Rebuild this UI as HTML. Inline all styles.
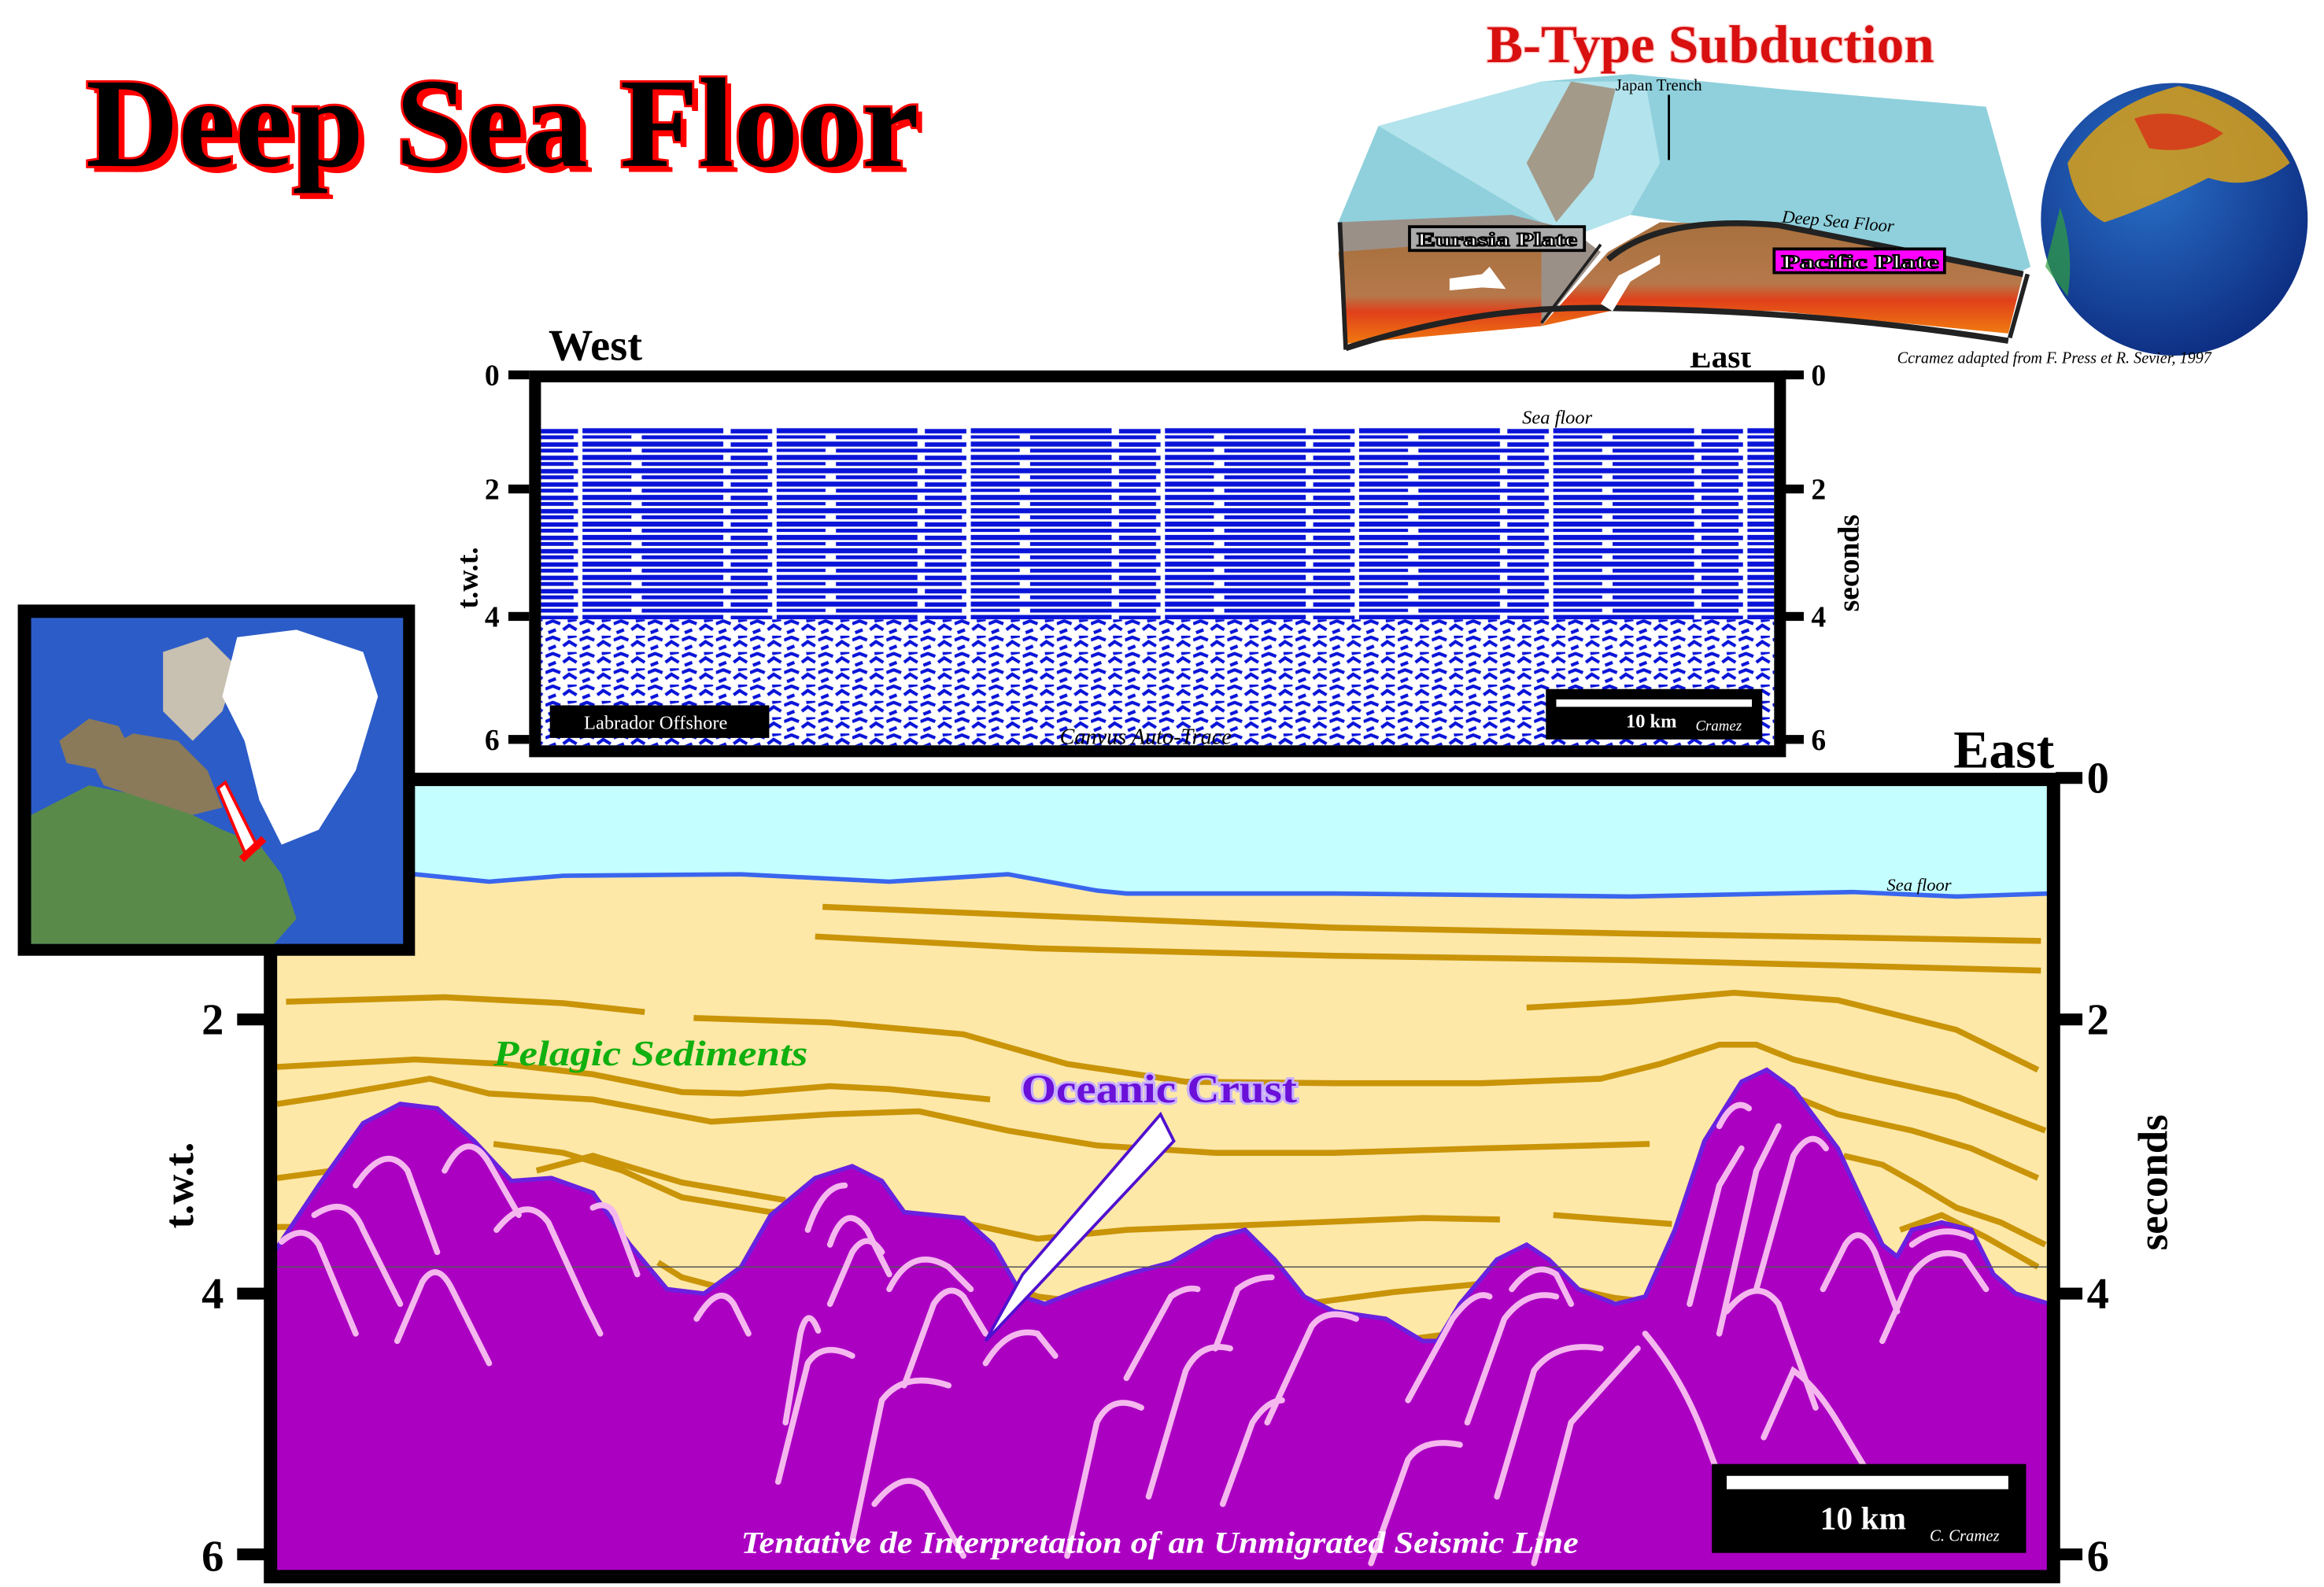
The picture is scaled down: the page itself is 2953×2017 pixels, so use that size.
<!DOCTYPE html>
<html><head><meta charset="utf-8"><style>
html,body{margin:0;padding:0;background:#fff;}
svg{display:block;}
text{font-family:"Liberation Serif",serif;}
</style></head><body>
<svg width="2953" height="2017" viewBox="0 0 1568 1071" preserveAspectRatio="none" xmlns="http://www.w3.org/2000/svg">
<defs>
<pattern id="hz" width="131" height="9" patternUnits="userSpaceOnUse">
<rect width="131" height="9" fill="#fff"/>
<rect x="0" y="1" width="95" height="3.4" fill="#0a14d8"/>
<rect x="100" y="1.5" width="28" height="3" fill="#0a14d8"/>
<rect x="40" y="5.8" width="85" height="2.6" fill="#0a14d8"/>
<rect x="0" y="5.8" width="33" height="2.2" fill="#0a14d8"/>
</pattern>
<pattern id="ns" width="23" height="11" patternUnits="userSpaceOnUse">
<rect width="23" height="11" fill="#fff"/>
<path d="M0 3 L5 1 L10 3 M12 7 L16 4 L21 7 M2 9 L7 7 M15 1 L21 0" stroke="#0a14d8" stroke-width="2.2" fill="none"/>
</pattern>
<linearGradient id="mantle" x1="0" y1="0" x2="0" y2="1">
<stop offset="0" stop-color="#a7703e"/><stop offset="0.55" stop-color="#b6784a"/><stop offset="0.7" stop-color="#e0401a"/><stop offset="1" stop-color="#f07a10"/>
</linearGradient>
<radialGradient id="globe" cx="0.4" cy="0.35" r="0.7">
<stop offset="0" stop-color="#2a70c8"/><stop offset="1" stop-color="#0c2c80"/>
</radialGradient>
</defs>

<text x="62" y="116" font-size="86" font-weight="bold" textLength="562" lengthAdjust="spacingAndGlyphs" fill="#f00">Deep Sea Floor</text>
<text x="58" y="112" font-size="86" font-weight="bold" textLength="562" lengthAdjust="spacingAndGlyphs" fill="#000" stroke="#f00" stroke-width="3" paint-order="stroke">Deep Sea Floor</text>

<text x="1003" y="42" font-size="36" font-weight="bold" textLength="302" lengthAdjust="spacingAndGlyphs" fill="#d81010" stroke="#ffd0d0" stroke-width="1.5" paint-order="stroke">B-Type Subduction</text>

<text x="1140" y="248" font-size="22" font-weight="bold" fill="#000">East</text>
<rect x="900" y="50" width="470" height="188" fill="#fff"/>
<polygon points="903,150 930,85 1040,55 1100,50 1200,60 1340,72 1370,180 1360,185 1100,145 1060,160" fill="#8fd0dc"/>
<polygon points="930,85 1040,55 1110,55 1120,110 1100,145 1060,160 1040,150" fill="#b3e3ec"/>
<polygon points="1030,110 1060,55 1090,60 1075,120 1050,150" fill="#a39a8a"/>
<polygon points="903,150 1020,145 1060,155 1080,170 1040,220 910,200" fill="#9b9088"/>
<polygon points="903,170 1040,160 1040,220 908,232" fill="url(#mantle)"/>
<polygon points="1040,220 1085,170 1120,150 1200,152 1365,185 1355,225 1200,210 1095,208" fill="url(#mantle)"/>
<path d="M1085,175 Q1120,145 1200,152 L1365,185" stroke="#222" stroke-width="4" fill="none"/>
<path d="M1040,218 L1080,165" stroke="#222" stroke-width="2" fill="none"/>
<path d="M908,235 Q1000,205 1090,208 Q1230,210 1355,230" stroke="#222" stroke-width="4" fill="none"/>
<path d="M904,150 L908,236 M1368,185 L1356,228" stroke="#222" stroke-width="3"/>
<line x1="1126" y1="64" x2="1126" y2="108" stroke="#000" stroke-width="1.5"/>
<text x="1090" y="61" font-size="11" fill="#000">Japan Trench</text>
<text x="1202" y="150" font-size="12" font-style="italic" fill="#000" transform="rotate(5 1202 150)">Deep Sea Floor</text>
<rect x="951" y="153" width="118" height="16" fill="#aaa" stroke="#000" stroke-width="2"/>
<text x="956" y="166" font-size="13" font-weight="bold" fill="#fff" stroke="#000" stroke-width="1" textLength="108" lengthAdjust="spacingAndGlyphs">Eurasia Plate</text>
<rect x="1197" y="168" width="115" height="16" fill="#f0f" stroke="#000" stroke-width="2"/>
<text x="1202" y="181" font-size="13" font-weight="bold" fill="#fff" stroke="#000" stroke-width="1" textLength="106" lengthAdjust="spacingAndGlyphs">Pacific Plate</text>
<path d="M978,188 L1000,185 L1005,180 L1016,195 L1000,194 L978,196 Z" fill="#fff"/>
<path d="M1120,178 L1100,190 L1088,210 L1080,205 L1092,186 L1120,172 Z" fill="#fff"/>
<ellipse cx="1467" cy="148" rx="90" ry="92" fill="url(#globe)"/>
<path d="M1395,110 Q1420,70 1470,58 Q1520,70 1545,110 Q1520,130 1490,120 Q1450,140 1420,150 Q1400,140 1395,110Z" fill="#d9a018" opacity="0.85"/>
<path d="M1440,80 Q1470,70 1500,90 Q1480,105 1450,100Z" fill="#d83018" opacity="0.8"/>
<path d="M1390,140 Q1400,170 1395,200 L1380,180 Z" fill="#30a040" opacity="0.7"/>
<text x="1280" y="245" font-size="11" font-style="italic" fill="#000" textLength="212" lengthAdjust="spacingAndGlyphs">Ccramez adapted from F. Press et R. Sevier, 1997</text>

<rect x="365" y="258" width="832" height="245" fill="#fff"/>
<rect x="365" y="288" width="832" height="130" fill="url(#hz)"/>
<rect x="365" y="418" width="832" height="85" fill="url(#ns)"/>
<rect x="361" y="254" width="840" height="253" fill="none" stroke="#000" stroke-width="8"/>
<text x="370" y="243" font-size="30" font-weight="bold" fill="#000">West</text>
<text x="1027" y="286" font-size="13" font-style="italic" fill="#000">Sea floor</text>
<g fill="#000">
<rect x="343" y="250" width="14" height="6"/><rect x="343" y="327" width="14" height="6"/><rect x="343" y="413" width="14" height="6"/><rect x="343" y="496" width="14" height="6"/>
<rect x="1203" y="250" width="14" height="6"/><rect x="1203" y="327" width="14" height="6"/><rect x="1203" y="413" width="14" height="6"/><rect x="1203" y="496" width="14" height="6"/>
</g>
<g font-size="20" font-weight="bold" fill="#000">
<text x="327" y="260">0</text><text x="327" y="337">2</text><text x="327" y="423">4</text><text x="327" y="506">6</text>
<text x="1222" y="260">0</text><text x="1222" y="337">2</text><text x="1222" y="423">4</text><text x="1222" y="506">6</text>
</g>
<text transform="translate(322 390) rotate(-90)" font-size="20" font-weight="bold" text-anchor="middle" fill="#000">t.w.t.</text>
<text transform="translate(1254 380) rotate(-90)" font-size="20" font-weight="bold" text-anchor="middle" fill="#000">seconds</text>
<rect x="371" y="476" width="148" height="22" fill="#000"/>
<text x="394" y="492" font-size="13" fill="#fff">Labrador Offshore</text>
<rect x="1043" y="465" width="146" height="34" fill="#000"/>
<rect x="1050" y="472" width="132" height="5" fill="#fff"/>
<text x="1097" y="491" font-size="13" font-weight="bold" fill="#fff">10 km</text>
<text x="1144" y="493" font-size="10" font-style="italic" fill="#fff">Cramez</text>
<text x="715" y="502" font-size="15" font-style="italic" fill="#000">Canvus Auto-Trace</text>

<rect x="185" y="527" width="1198" height="534" fill="#fde8a8"/>
<path d="M185,527 H1383 V603 L1350,605 L1250,602 L1100,605 L900,603 L760,603 L740,600 L680,590 L600,595 L500,590 L380,592 L330,595 L280,590 L185,605 Z" fill="#c4feff"/>
<path d="M185,595 L280,590 L330,595 L380,591 L500,590 L600,595 L680,590 L740,601 L760,603 L900,603 L1100,605 L1250,602 L1320,605 L1383,603" stroke="#3a66ee" stroke-width="3" fill="none"/>
<text x="1273" y="601" font-size="12" font-style="italic" fill="#000">Sea floor</text>
<g stroke="#c99408" stroke-width="4" fill="none" stroke-linecap="butt">
<path d="M555,612 L700,618 L900,626 L1100,630 L1377,635"/>
<path d="M550,632 L700,640 L900,645 L1100,648 L1377,655"/>
<path d="M193,676 L300,673 L380,677 L435,683"/>
<path d="M468,687 L560,690 L650,698 L720,718 L800,730 L900,731 L1000,731 L1080,728 L1120,718 L1160,705 L1185,705 L1210,715 L1260,727 L1320,740 L1380,763"/>
<path d="M1030,680 L1100,676 L1170,670 L1240,675 L1320,695 L1375,722"/>
<path d="M187,720 L280,715 L340,718 L400,725 L460,737 L500,738 L560,733 L600,735 L668,742"/>
<path d="M187,745 L220,740 L290,728 L330,738 L400,742 L480,757 L560,752 L620,750 L680,763 L740,773 L820,778 L900,778 L1000,775 L1113,772"/>
<path d="M1198,735 L1240,752 L1290,763 L1330,775 L1375,795"/>
<path d="M187,795 L240,788"/>
<path d="M333,772 L380,778 L420,790 L460,808 L520,818 L580,812 L600,820 L640,823 L700,836 L760,830 L860,826 L960,822 L1012,823"/>
<path d="M362,790 L400,780 L460,798 L530,810"/>
<path d="M1048,820 L1128,826"/>
<path d="M1244,780 L1270,786 L1295,800 L1320,815 L1350,825 L1380,840"/>
<path d="M187,828 L220,828"/>
<path d="M444,852 L460,862 L490,870 L520,865"/>
<path d="M663,860 L700,875 L740,880 L790,875"/>
<path d="M880,880 L940,872 L1004,866"/>
<path d="M1048,867 L1090,876 L1125,880"/>
<path d="M1282,830 L1310,820 L1340,835 L1375,855"/>
<path d="M942,905 L980,900"/>
</g>
<path d="M185,845 L215,800 L245,758 L270,745 L295,748 L320,770 L345,797 L372,795 L400,805 L425,840 L450,870 L475,873 L500,855 L520,820 L550,795 L575,787 L595,797 L610,818 L650,822 L670,840 L690,875 L705,880 L730,870 L760,860 L790,852 L820,835 L840,830 L860,850 L880,875 L900,885 L935,890 L960,905 L970,905 L985,880 L1010,850 L1030,840 L1045,850 L1065,870 L1090,880 L1110,875 L1130,830 L1150,770 L1175,730 L1192,722 L1210,735 L1240,775 L1270,840 L1280,848 L1290,830 L1310,825 L1330,830 L1345,860 L1360,873 L1383,880 V1061 H185 Z" fill="#ab00c2" stroke="#6a20e0" stroke-width="3"/>
<line x1="185" y1="855" x2="1383" y2="855" stroke="#555" stroke-width="0.8"/>
<g stroke="#f5b8ee" stroke-width="4" fill="none" stroke-linecap="round">
<path d="M240,800 Q260,770 275,790 L295,845"/>
<path d="M300,790 Q315,760 330,785 L350,820"/>
<path d="M212,820 Q235,805 245,830 L270,880"/>
<path d="M190,838 Q205,825 215,840 L240,900"/>
<path d="M268,905 L285,865 Q295,850 305,870 L330,920"/>
<path d="M335,830 Q355,805 370,825 L395,880 L405,900"/>
<path d="M400,815 Q410,810 415,820 L430,860"/>
<path d="M470,890 Q485,865 495,880 L505,900"/>
<path d="M530,960 L540,900 Q545,880 552,898"/>
<path d="M560,840 Q570,810 585,830 L600,860"/>
<path d="M545,830 Q555,800 570,800"/>
<path d="M560,880 L575,845 Q585,830 595,845"/>
<path d="M600,870 Q615,840 640,855 L655,870"/>
<path d="M610,935 L630,880 Q640,865 650,875 L665,900"/>
<path d="M665,920 Q680,895 700,900 L712,915"/>
<path d="M525,1000 L545,920 Q555,905 575,915"/>
<path d="M575,1040 L595,945 Q610,925 640,935"/>
<path d="M590,1015 Q610,990 625,1005 L650,1050"/>
<path d="M720,1050 L740,960 Q750,940 770,950"/>
<path d="M775,1010 L800,925 Q810,905 830,910"/>
<path d="M825,1015 L845,960 Q855,945 865,945"/>
<path d="M760,930 L790,875 Q800,868 808,870"/>
<path d="M820,910 L835,870 Q845,862 858,862"/>
<path d="M855,960 L885,895 Q895,882 915,890"/>
<path d="M950,945 L980,890 Q995,870 1005,875"/>
<path d="M990,960 L1015,890 Q1030,870 1050,875"/>
<path d="M1010,1010 L1035,925 Q1050,905 1080,910"/>
<path d="M925,1055 L950,985 Q960,970 985,975"/>
<path d="M1035,1055 L1060,960 L1105,910"/>
<path d="M1110,900 Q1135,930 1150,970 L1165,1010"/>
<path d="M1020,870 Q1035,850 1050,860 L1060,880"/>
<path d="M1140,880 L1160,800 L1175,775"/>
<path d="M1160,900 L1185,790 L1200,760"/>
<path d="M1185,870 L1210,780 Q1222,760 1232,775"/>
<path d="M1165,885 Q1185,860 1200,880 L1225,950"/>
<path d="M1190,970 L1210,925 Q1225,935 1240,960 L1270,1010"/>
<path d="M1230,870 L1245,840 Q1255,825 1265,845 L1280,885"/>
<path d="M1270,905 L1290,860 Q1305,840 1325,848 L1340,870"/>
<path d="M1290,840 Q1310,825 1330,835"/>
<path d="M1160,760 Q1170,740 1180,748"/>
</g>
<path d="M783,752 L792,770 L700,868 L665,905 L690,860 Z" fill="#fff" stroke="#5010d0" stroke-width="2"/>
<text x="689" y="744" font-size="27" font-weight="bold" fill="#6a10d8" stroke="#c8b0ff" stroke-width="3" paint-order="stroke" textLength="186" lengthAdjust="spacingAndGlyphs">Oceanic Crust</text>
<text x="333" y="719" font-size="24" font-weight="bold" font-style="italic" fill="#10b010" textLength="212" lengthAdjust="spacingAndGlyphs">Pelagic Sediments</text>
<rect x="1155" y="988" width="212" height="60" fill="#000"/>
<rect x="1165" y="996" width="190" height="9" fill="#fff"/>
<text x="1228" y="1032" font-size="22" font-weight="bold" fill="#fff">10 km</text>
<text x="1302" y="1040" font-size="11" font-style="italic" fill="#fff">C. Cramez</text>
<text x="500" y="1048" font-size="21" font-weight="bold" font-style="italic" fill="#fff" textLength="565" lengthAdjust="spacingAndGlyphs">Tentative de Interpretation of an Unmigrated Seismic Line</text>
<rect x="182.5" y="526" width="1203" height="538" fill="none" stroke="#000" stroke-width="9"/>
<text x="1318" y="518" font-size="36" font-weight="bold" fill="#000">East</text>
<g fill="#000">
<rect x="1387" y="521" width="18" height="8"/><rect x="1387" y="684" width="18" height="8"/><rect x="1387" y="869" width="18" height="8"/><rect x="1387" y="1045" width="18" height="8"/>
<rect x="160" y="684" width="20" height="8"/><rect x="160" y="869" width="20" height="8"/><rect x="160" y="1045" width="20" height="8"/>
</g>
<g font-size="30" font-weight="bold" fill="#000">
<text x="1408" y="535">0</text><text x="1408" y="698">2</text><text x="1408" y="883">4</text><text x="1408" y="1060">6</text>
<text x="136" y="698">2</text><text x="136" y="883">4</text><text x="136" y="1060">6</text>
</g>
<text transform="translate(130 800) rotate(-90)" font-size="28" font-weight="bold" text-anchor="middle" fill="#000">t.w.t.</text>
<text transform="translate(1462 798) rotate(-90)" font-size="28" font-weight="bold" text-anchor="middle" fill="#000">seconds</text>

<rect x="12" y="408" width="268" height="237" fill="#000"/>
<rect x="21" y="417" width="251" height="220" fill="#2c5cc8"/>
<path d="M21,550 L60,530 L110,540 L150,560 L175,570 L190,590 L200,620 L185,637 L21,637 Z" fill="#5a8a4a"/>
<path d="M60,510 L90,495 L120,500 L140,520 L150,545 L130,550 L100,540 L70,530 Z" fill="#8a7a5a"/>
<path d="M110,440 L140,430 L160,450 L150,480 L130,500 L110,480 Z" fill="#c8c0b0"/>
<path d="M40,500 L60,485 L80,490 L90,510 L70,520 L45,515 Z" fill="#8a7a5a"/>
<path d="M160,430 L200,425 L245,440 L255,470 L240,520 L215,560 L190,570 L175,540 L165,500 L150,470 Z" fill="#fff"/>
<path d="M152,528 L168,560 L174,572 L165,575 L147,532 Z" fill="#fff" stroke="#f00" stroke-width="2"/>
<line x1="163" y1="580" x2="178" y2="566" stroke="#f00" stroke-width="5"/>
</svg>
</body></html>
